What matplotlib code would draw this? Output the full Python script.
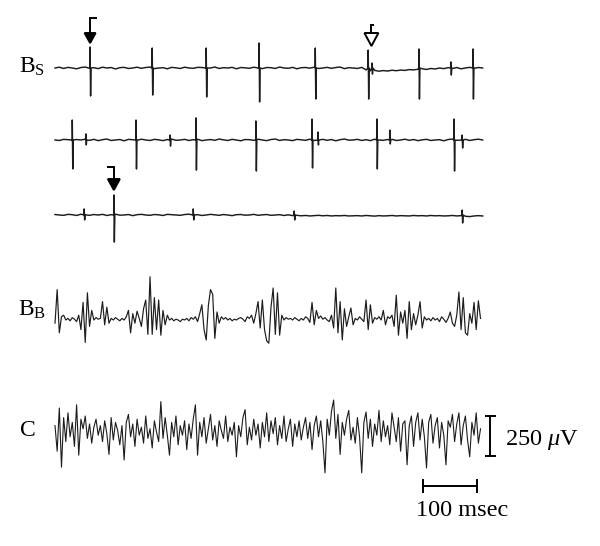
import matplotlib
matplotlib.use("Agg")
import matplotlib.pyplot as plt
import numpy as np

plt.rcParams["font.family"] = ["Liberation Serif", "DejaVu Serif"]
plt.rcParams["mathtext.fontset"] = "custom"
plt.rcParams["mathtext.rm"] = "Liberation Serif"
plt.rcParams["mathtext.it"] = "Liberation Serif:italic"

# page scale, taken from the scale bars: 54 px = 100 ms, 40 px = 250 uV
MS_PER_PX = 1 / 0.54
UV_PER_PX = 6.25
W_PX, H_PX = 600, 546
X0_PX = 55  # left edge of the traces

SLOW_STEP = 8.0  # ms between baseline samples (B_S rows)
FAST_STEP = 4.0  # ms between samples (B_B, C)

# ---- B_S, three sweeps: baseline jitter (uV) + spikes (ms, uV up, uV down)
row1_base = [0, 5, -3, 4, 0, -5, 3, 6, -2, 2,
             -4, 5, 0, 3, -6, 2, 4, -3, 0, 5,
             -2, 3, 6, -4, 0, 2, -5, 4, 1, -3,
             5, 0, -2, 4, 3, -4, 0, 6, -3, 2,
             0, 4, -5, 3, 1, -2, 5, 0, -4, 3,
             2, -3, 6, 0, -2, 4, -5, 2, 3, -1,
             5, -3, 0, 4, -2, 3, 6, -4, 2, 0,
             -3, 4, -12, -18, -15, -20, -16, -19, -14, -17,
             -13, -15, -10, -12, -8, -5, -9, -3, -6, 0,
             -4, 2, -3, 3, -5, 0, 4, -2, 3, 0]
row1_spike_t = [65, 180, 280, 378, 482, 580, 587, 674, 733, 774]
row1_spike_up = [131, 125, 125, 156, 125, 112, 31, 119, 38, 119]
row1_spike_down = [175, 169, 181, 212, 194, 194, 38, 194, 44, 194]

row2_base = [0, -3, 4, 2, -5, 3, 0, 5, -2, 4,
             -4, 2, 6, -3, 0, 3, -5, 4, 2, -2,
             5, 0, -3, 4, 1, -4, 3, 6, -2, 0,
             4, -3, 2, 5, -4, 0, 3, -2, 6, 1,
             -3, 4, 0, -5, 3, 2, -2, 5, 0, -4,
             3, 6, -3, 2, 0, -4, 4, 1, -2, 5,
             -3, 0, 4, -2, 3, -5, 2, 6, -1, 0,
             4, -3, 2, -4, 5, 0, -2, 3, 4, -3,
             0, 5, -2, 3, -4, 1, 4, -3, 0, 2,
             -5, 3, 6, -2, 0, 4, -3, 2, 5, 0]
row2_spike_t = [32, 57, 150, 213, 261, 372, 476, 487, 596, 620, 739, 754]
row2_spike_up = [125, 38, 125, 31, 138, 119, 131, 50, 131, 62, 131, 31]
row2_spike_down = [181, 31, 181, 38, 188, 194, 175, 31, 181, 25, 194, 50]

row3_base = [3, 0, -2, 4, 2, -3, 5, 1, -2, 3,
             0, 4, -3, 2, 5, -1, 0, 3, -4, 2,
             4, 0, -2, 3, 1, -3, 4, 2, 0, -2,
             3, 5, -1, 2, -3, 0, 4, 1, -2, 3,
             0, -4, 2, 3, -1, 0, 4, -2, 1, 3,
             -2, 0, 2, -3, 1, -4, -2, -5, -3, -6,
             -4, -2, -5, -3, -6, -4, -5, -3, -6, -5,
             -4, -6, -3, -5, -7, -4, -6, -5, -3, -6,
             -4, -5, -6, -3, -5, -4, -6, -3, -5, -4,
             -6, -5, -3, -6, -4, -8, -10, -6, -4, -6]
row3_spike_t = [54, 109, 256, 443, 754]
row3_spike_up = [38, 125, 38, 25, 31]
row3_spike_down = [31, 169, 31, 31, 50]

# ---- B_B, bursting (uV, every 4 ms)
bb_values = [-20, 190, -80, 20, 30, 0, 10, -5, 15, 5,
             -10, 30, -60, 110, -140, 170, -40, 60, 0, 15,
             5, 10, 115, -30, 80, -20, 10, 0, 15, 5,
             -5, 10, 0, 20, 60, -80, 40, -20, 55, 10,
             -40, 70, 125, -90, 270, -90, 140, -60, 125, -95,
             60, -30, 30, 0, 10, -5, 5, 0, -10, 5,
             0, 10, -5, 15, 5, 20, -10, 40, 95, -60,
             -125, 90, 190, 160, -115, 50, -20, 20, 5, 15,
             0, 10, -5, 5, 0, 10, 15, 5, -10, 20,
             10, 30, -20, 40, 115, -50, 125, -60, -130, -145,
             80, 200, -90, 170, -95, 30, 0, 15, 5, 10,
             0, 15, 5, -5, 10, 0, 20, 10, -15, 110,
             -30, 60, 10, 25, 5, 15, 0, -10, 30, -50,
             200, -80, 115, -125, 70, -40, 20, 75, -30, 10,
             0, 20, 5, -10, 125, -60, 95, -20, 15, 5,
             20, 0, 60, -30, 20, 10, 30, -40, 155, -95,
             50, -20, 60, -115, 115, -60, 40, -30, 30, 115,
             -50, 20, 0, 10, -5, 15, 0, 10, -10, 20,
             5, -15, 10, 50, -20, -40, 30, 175, -60, 140,
             -80, -95, 40, -20, 110, -60, 120, 10]

# ---- C, continuous activity (uV, every 4 ms)
c_values = [40, -120, 150, -220, 90, -60, 120, -30, 60, -90,
            170, -145, 80, 20, 100, -40, 50, -70, 30, 80,
            -20, 40, -60, 70, -10, -140, 90, -50, 60, 10,
            -80, 40, -175, 60, 110, -30, 50, -90, 80, -20,
            30, -70, 100, -40, 20, -100, 70, 0, -60, 190,
            -40, 90, -20, -145, 60, -30, 100, -80, 40, -20,
            70, -110, 50, -40, 80, 170, -145, 60, -30, 90,
            -70, 20, 110, -50, 40, -90, 70, 10, -40, 100,
            -60, 30, -20, 60, -155, 40, -30, 90, 140, -80,
            30, -50, 80, -20, 50, -100, 60, -30, 120, -60,
            70, -10, 90, -80, 40, -40, 100, -60, 20, 80,
            -90, 50, -30, 70, -50, 30, 90, -40, 60, -110,
            40, 100, -30, 70, -60, -255, 80, -20, 130, 200,
            -40, 110, -140, 60, -20, 80, 135, -50, 30, -70,
            90, -30, -255, 60, 125, -40, 80, -90, 50, -20,
            135, -60, 70, -30, 40, -80, 120, 30, -60, 90,
            -120, 50, 70, -205, 40, 100, -90, 60, 120, -50,
            80, -30, -225, 60, 110, -70, 40, 90, -100, 60,
            -20, -205, 70, 30, 110, -60, 50, 120, -80, 40,
            100, -50, -155, 60, -20, 120, -70, 20]

SCALE_UV = 250
SCALE_MS = 100

# vertical position of each trace (px from top of page)
ROW_PX = {"bs1": 68, "bs2": 140, "bs3": 215, "bb": 320, "c": 432}
ROW = {k: (H_PX - v) * UV_PER_PX for k, v in ROW_PX.items()}

LINE = "#1c1c1c"


def spike_trace(base, spike_t, spike_up, spike_down):
    t = np.arange(len(base)) * SLOW_STEP
    st = np.asarray(spike_t, float)
    zeros = np.zeros(len(st))
    tt = np.concatenate([t, st - 0.3, st, st + 0.9, st + 1.8])
    yy = np.concatenate([np.asarray(base, float), zeros,
                         np.asarray(spike_up, float),
                         -np.asarray(spike_down, float), zeros])
    order = np.argsort(tt, kind="stable")
    return tt[order], yy[order]


def hook_arrow(ax, t, y0, tip_px, head_px, stem_px, half_px, hook_px, filled):
    tip = y0 + tip_px * UV_PER_PX
    hb = tip + head_px * UV_PER_PX
    top = hb + stem_px * UV_PER_PX
    ax.plot([t + hook_px * MS_PER_PX, t, t], [top, top, hb],
            color="black", lw=1.4, solid_capstyle="butt", solid_joinstyle="miter")
    ax.fill([t - half_px * MS_PER_PX, t + half_px * MS_PER_PX, t], [hb, hb, tip],
            facecolor="black" if filled else "white", edgecolor="black",
            lw=1.4, joinstyle="miter")


fig = plt.figure(figsize=(6, 5.46), dpi=100)
ax = fig.add_axes([0, 0, 1, 1])
ax.set_xlim(-X0_PX * MS_PER_PX, (W_PX - X0_PX) * MS_PER_PX)
ax.set_ylim(0, H_PX * UV_PER_PX)
ax.axis("off")

for key, base, st, su, sd in [
    ("bs1", row1_base, row1_spike_t, row1_spike_up, row1_spike_down),
    ("bs2", row2_base, row2_spike_t, row2_spike_up, row2_spike_down),
    ("bs3", row3_base, row3_spike_t, row3_spike_up, row3_spike_down),
]:
    tt, yy = spike_trace(base, st, su, sd)
    ax.plot(tt, yy + ROW[key], color=LINE, lw=1.05)

t_fast = np.arange(len(bb_values)) * FAST_STEP
ax.plot(t_fast, np.asarray(bb_values) + ROW["bb"], color=LINE, lw=0.85)
t_c = np.arange(len(c_values)) * FAST_STEP
ax.plot(t_c, np.asarray(c_values) + ROW["c"], color=LINE, lw=0.8)

# arrows over marked spikes
hook_arrow(ax, row1_spike_t[0], ROW["bs1"], 25, 10, 15, 5.5, 7, True)
hook_arrow(ax, row1_spike_t[6] - 1, ROW["bs1"], 22, 13, 8, 7, 3, False)
hook_arrow(ax, row3_spike_t[1], ROW["bs3"], 25, 11, 12, 6, -7, True)

# trace labels
lab_kw = dict(fontsize=17, ha="left", va="baseline", color="black")
ax.text(-66, ROW["bs1"] - 5 * UV_PER_PX, r"B$_{\mathrm{S}}$", **lab_kw)
ax.text(-69, ROW["bb"] + 4 * UV_PER_PX, r"B$_{\mathrm{B}}$", **lab_kw)
ax.text(-64, ROW["c"] - 4 * UV_PER_PX, "C", **lab_kw)

# scale bars
xv = (490 - X0_PX) * MS_PER_PX
yb = ROW["c"] - 24 * UV_PER_PX
cap = 4.5 * MS_PER_PX
ax.plot([xv, xv], [yb, yb + SCALE_UV], color="black", lw=1.4)
ax.plot([xv - cap, xv + cap], [yb, yb], color="black", lw=1.4)
ax.plot([xv - cap, xv + cap], [yb + SCALE_UV, yb + SCALE_UV], color="black", lw=1.4)
ax.text(xv + 15 * MS_PER_PX, yb + SCALE_UV / 2 - 3.5 * UV_PER_PX, r"250 $\mu$V",
        fontsize=17.5, ha="left", va="center")

xh = (423 - X0_PX) * MS_PER_PX
yh = (H_PX - 486) * UV_PER_PX
tick = 6 * UV_PER_PX
ax.plot([xh, xh + SCALE_MS], [yh, yh], color="black", lw=1.4)
ax.plot([xh, xh], [yh - tick, yh + tick], color="black", lw=1.4)
ax.plot([xh + SCALE_MS, xh + SCALE_MS], [yh - tick, yh + tick], color="black", lw=1.4)
ax.text(xh + SCALE_MS / 2 + 12 * MS_PER_PX, yh - 25 * UV_PER_PX, "100 msec",
        fontsize=17.5, ha="center", va="center")

fig.savefig("out.png", dpi=100)
